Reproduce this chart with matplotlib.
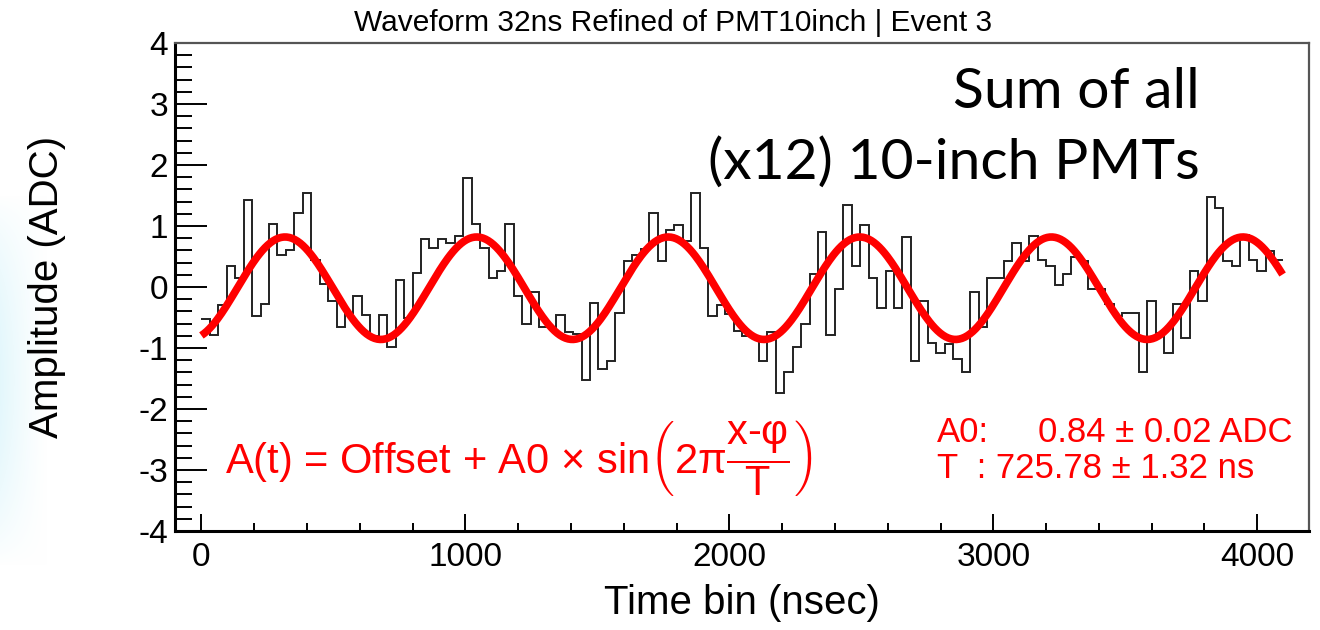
import numpy as np
import matplotlib
matplotlib.use("Agg")
import matplotlib.pyplot as plt
from matplotlib.ticker import MultipleLocator

# waveform, 128 bins of 32 ns starting at t = 0
bin_width = 32
amplitude = [
    -0.52, -0.78, -0.30, 0.35, 0.15, 1.42, -0.47, -0.28, 1.04, 0.53,
    0.60, 1.22, 1.54, 0.45, 0.05, -0.23, -0.66, -0.42, -0.15, -0.46,
    -0.80, -0.46, -0.98, 0.11, -0.50, 0.23, 0.78, 0.64, 0.78, 0.72,
    0.83, 1.78, 1.03, 0.64, 0.15, 0.26, 1.03, -0.15, -0.61, -0.09,
    -0.66, -0.66, -0.46, -0.73, -0.77, -1.53, -0.27, -1.34, -1.21, -0.42,
    0.42, 0.53, 0.63, 1.21, 0.42, 0.94, 1.02, 0.75, 1.54, 0.64,
    -0.47, -0.30, -0.45, -0.72, -0.80, -0.82, -1.21, -0.73, -1.73, -1.40,
    -0.99, -0.61, 0.22, 0.90, -0.78, -0.04, 1.35, 0.34, 1.02, 0.15,
    -0.34, 0.26, -0.34, 0.82, -1.21, -0.23, -0.91, -1.09, -0.93, -1.18,
    -1.40, -0.09, -0.66, 0.14, 0.14, 0.42, 0.72, 0.42, 0.83, 0.45,
    0.34, 0.04, 0.21, 0.50, 0.42, -0.04, -0.04, -0.28, -0.47, -0.42,
    -0.42, -1.40, -0.23, -0.75, -1.09, -0.28, -0.83, 0.26, -0.23, 1.47,
    1.30, 0.42, 0.34, 0.86, 0.45, 0.26, 0.59, 0.44,
]

# sine fit parameters
fit_offset = -0.02
fit_a0 = 0.84
fit_a0_err = 0.02
fit_period = 725.78
fit_period_err = 1.32
fit_phase = 135.5

x_ticks = [0, 1000, 2000, 3000, 4000]
y_ticks = [-4, -3, -2, -1, 0, 1, 2, 3, 4]

title = "Waveform 32ns Refined of PMT10inch | Event 3"
x_label = "Time bin (nsec)"
y_label = "Amplitude (ADC)"

plt.rcParams['font.family'] = ['Liberation Sans', 'DejaVu Sans']
plt.rcParams['axes.unicode_minus'] = False
plt.rcParams['mathtext.fontset'] = 'custom'
plt.rcParams['mathtext.rm'] = 'Liberation Sans'
plt.rcParams['mathtext.it'] = 'Liberation Sans'

W, H = 1320, 630
fig = plt.figure(figsize=(W / 100, H / 100), dpi=100)

# faint cyan from the slide background on the left edge
bg = fig.add_axes([0, (H - 565) / H, 48 / W, 370 / H])
gx = np.linspace(1, 0, 48)[None, :] ** 1.2
gy = np.sin(np.linspace(0, np.pi, 370))[:, None] ** 0.8
a = (gx * gy)[..., None] * 0.6
cyan = np.array([0.82, 0.95, 0.98])
bg.imshow(1 - a * (1 - cyan), aspect='auto')
bg.axis('off')

ax = fig.add_axes([175 / W, (H - 531) / H, (1309 - 175) / W, (531 - 43) / H])

edges = np.arange(len(amplitude) + 1) * bin_width
ax.stairs(amplitude, edges, baseline=None, color='#222222', lw=1.4)

t = np.linspace(0, edges[-1], 800)
fit = fit_offset + fit_a0 * np.sin(2 * np.pi * (t - fit_phase) / fit_period)
ax.plot(t, fit, color='#ff0000', lw=5.5, solid_capstyle='butt')

ax.set_xlim(-100, 4196)
ax.set_ylim(-4, 4)
ax.set_xticks(x_ticks)
ax.set_yticks(y_ticks)
ax.xaxis.set_minor_locator(MultipleLocator(200))
ax.yaxis.set_minor_locator(MultipleLocator(0.2))
ax.tick_params(which='both', direction='in', top=False, right=False, labelsize=24, width=1.4)
ax.tick_params(axis='y', which='major', length=23, pad=5)
ax.tick_params(axis='y', which='minor', length=12)
ax.tick_params(axis='x', which='major', length=12, pad=8)
ax.tick_params(axis='x', which='minor', length=6)
for side in ['left', 'bottom']:
    ax.spines[side].set_linewidth(2.2)
for side in ['top', 'right']:
    ax.spines[side].set_linewidth(1.6)
    ax.spines[side].set_color('#555555')

ax.set_xlabel(x_label, fontsize=29, labelpad=8)
ax.set_ylabel(y_label, fontsize=29, labelpad=52)
fig.text(673 / W, 1 - 23 / H, title, fontsize=21.5, ha='center', va='center')

# annotation from the slide
fig.text(1200 / W, 1 - 92 / H, "Sum of all", fontsize=41, family='Lato', ha='right', va='center')
fig.text(1200 / W, 1 - 163 / H, "(x12) 10-inch PMTs", fontsize=41, family='Lato', ha='right', va='center')

# fit formula and results
formula = r"A(t) = Offset + A0 $\times$ sin$\left(2\pi\dfrac{\mathrm{x‐}\varphi}{\mathrm{T}}\right)$"
fig.text(225 / W, 1 - 458 / H, formula, fontsize=30, color='#ff0000', ha='left', va='center')
fig.text(937 / W, 1 - 433 / H, "A0:", fontsize=25, color='#ff0000', ha='left', va='center')
fig.text(1038 / W, 1 - 433 / H, f"{fit_a0:.2f} ± {fit_a0_err:.2f} ADC", fontsize=25,
         color='#ff0000', ha='left', va='center')
fig.text(937 / W, 1 - 469 / H, f"T  : {fit_period:.2f} ± {fit_period_err:.2f} ns", fontsize=25,
         color='#ff0000', ha='left', va='center')

fig.savefig('out.png', dpi=100)
